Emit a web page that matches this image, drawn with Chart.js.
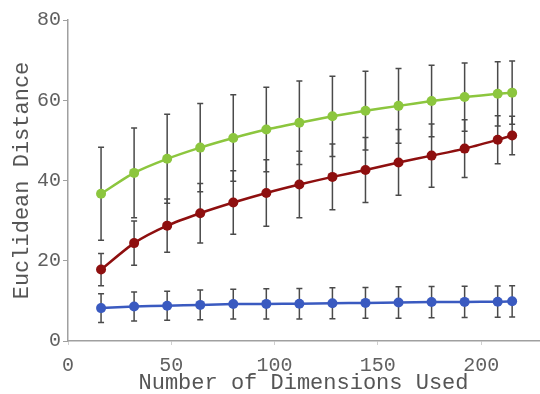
<!DOCTYPE html>
<html>
<head>
<meta charset="utf-8">
<script src="https://cdn.jsdelivr.net/npm/chart.js@4.4.0/dist/chart.umd.min.js"></script>
<style>
html,body{margin:0;padding:0;background:#fff;}
#wrap{width:540px;height:394px;position:relative;}
</style>
</head>
<body>
<div id="wrap"><canvas id="c" width="540" height="394"></canvas></div>
<script>
const dims = [16, 32, 48, 64, 80, 96, 112, 128, 144, 160, 176, 192, 208, 215];
const greenMean = [36.7, 41.9, 45.4, 48.2, 50.6, 52.7, 54.4, 56.0, 57.4, 58.6, 59.8, 60.8, 61.6, 61.9];
const greenErr  = [11.6, 11.2, 11.1, 11.0, 10.8, 10.55, 10.4, 10.0, 9.8, 9.3, 8.9, 8.5, 8.0, 7.9];
const redMean   = [17.8, 24.4, 28.75, 31.85, 34.5, 36.9, 39.0, 40.9, 42.6, 44.5, 46.2, 47.95, 50.15, 51.2];
const redErr    = [4.0, 5.5, 6.65, 7.4, 7.9, 8.3, 8.3, 8.2, 8.1, 8.2, 7.9, 7.2, 6.0, 4.8];
const blueMean  = [8.2, 8.6, 8.8, 9.0, 9.2, 9.25, 9.3, 9.4, 9.5, 9.6, 9.7, 9.75, 9.8, 9.9];
const blueErr   = [3.6, 3.6, 3.6, 3.7, 3.7, 3.75, 3.8, 3.85, 3.85, 3.9, 3.9, 3.9, 3.9, 3.9];
const xTicks = [0, 50, 100, 150, 200];
const yTicks = [0, 20, 40, 60, 80];

function pts(means){ return dims.map((d,i)=>({x:d, y:means[i]})); }

const errorBars = {
  id: 'errorBars',
  beforeDatasetsDraw(chart){
    const ctx = chart.ctx;
    const xs = chart.scales.x, ys = chart.scales.y;
    ctx.save();
    ctx.strokeStyle = '#4a4a4a';
    ctx.lineWidth = 1.5;
    chart.data.datasets.forEach(ds=>{
      ds.data.forEach((p,i)=>{
        const e = ds.err[i];
        const px = xs.getPixelForValue(p.x);
        const t = ys.getPixelForValue(p.y + e);
        const b = ys.getPixelForValue(p.y - e);
        ctx.beginPath();
        ctx.moveTo(px, t); ctx.lineTo(px, b);
        ctx.moveTo(px-3, t); ctx.lineTo(px+3, t);
        ctx.moveTo(px-3, b); ctx.lineTo(px+3, b);
        ctx.stroke();
      });
    });
    ctx.restore();
  }
};

const mono = "'Liberation Mono', 'Courier New', monospace";
new Chart(document.getElementById('c'), {
  type: 'line',
  data: {
    datasets: [
      {data: pts(greenMean), err: greenErr, borderColor:'#8cc63e', backgroundColor:'#8cc63e'},
      {data: pts(redMean), err: redErr, borderColor:'#8e0f0f', backgroundColor:'#8e0f0f'},
      {data: pts(blueMean), err: blueErr, borderColor:'#3a5ac0', backgroundColor:'#3a5ac0'}
    ].map(d=>Object.assign(d,{borderWidth:2.5, pointRadius:5, pointBorderWidth:0, tension:0.25, fill:false}))
  },
  options: {
    responsive:false,
    animation:false,
    layout:{autoPadding:false, padding:{top:20, right:1, left:0, bottom:0}},
    plugins:{legend:{display:false}, tooltip:{enabled:false}},
    scales:{
      x:{
        type:'linear', min:0, max:228,
        afterBuildTicks(s){ s.ticks = xTicks.map(v=>({value:v})); },
        border:{color:'#a0a0a0', width:1.5},
        grid:{display:true, drawOnChartArea:false, drawTicks:true, tickLength:4, color:'#d0d0d0'},
        ticks:{color:'#606060', font:{family:mono, size:20, lineHeight:0.6}, padding:15, maxRotation:0},
        title:{display:true, text:'Number of Dimensions Used', color:'#555', font:{family:mono, size:22, lineHeight:1}, padding:{top:-15,bottom:0}}
      },
      y:{
        type:'linear', min:0, max:80,
        afterBuildTicks(s){ s.ticks = yTicks.map(v=>({value:v})); },
        border:{color:'#a0a0a0', width:1.5},
        grid:{display:true, drawOnChartArea:false, drawTicks:true, tickLength:5, color:'#a0a0a0'},
        ticks:{color:'#606060', font:{family:mono, size:20}, padding:2},
        title:{display:true, text:'Euclidean Distance', color:'#555', font:{family:mono, size:22, lineHeight:1}, padding:{top:11,bottom:2}}
      }
    }
  },
  plugins:[errorBars]
});
</script>
</body>
</html>
